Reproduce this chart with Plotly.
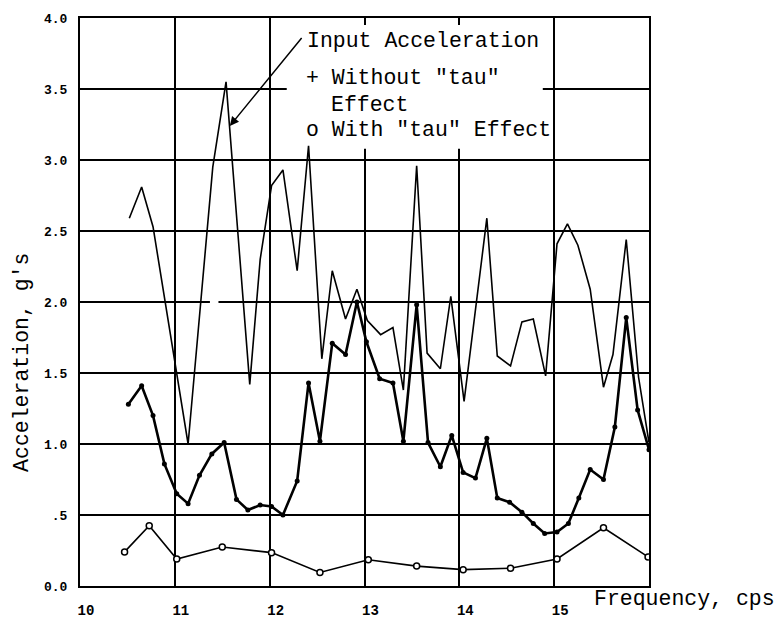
import plotly.graph_objects as go

# ---- data ----
input_f = [10.52, 10.65, 10.77, 11.14, 11.40, 11.54, 11.79, 11.90, 12.02, 12.14, 12.29, 12.41,
           12.55, 12.66, 12.80, 12.92, 13.03, 13.17, 13.30, 13.41, 13.55, 13.66, 13.80, 13.91,
           14.05, 14.29, 14.40, 14.54, 14.66, 14.78, 14.91, 15.01, 15.03, 15.14, 15.25, 15.38,
           15.52, 15.62, 15.76, 15.89, 16.00]
input_acc = [2.59, 2.81, 2.53, 1.00, 2.95, 3.55, 1.42, 2.30, 2.82, 2.93, 2.22, 3.10,
             1.60, 2.22, 1.88, 2.09, 1.87, 1.77, 1.82, 1.38, 2.96, 1.64, 1.53, 2.04,
             1.30, 2.59, 1.62, 1.55, 1.86, 1.88, 1.48, 2.29, 2.41, 2.55, 2.40, 2.09,
             1.40, 1.63, 2.44, 1.47, 1.01]

without_f = [10.51, 10.65, 10.77, 10.89, 11.02, 11.14, 11.26, 11.39, 11.52, 11.65, 11.77, 11.90,
             12.02, 12.14, 12.29, 12.41, 12.53, 12.66, 12.80, 12.92, 13.02, 13.16, 13.30, 13.41,
             13.55, 13.67, 13.80, 13.92, 14.04, 14.17, 14.29, 14.40, 14.53, 14.66, 14.78, 14.90,
             15.03, 15.15, 15.26, 15.38, 15.52, 15.64, 15.76, 15.88, 16.00]
without_tau = [1.28, 1.41, 1.20, 0.86, 0.65, 0.58, 0.78, 0.93, 1.01, 0.61, 0.535, 0.57,
               0.56, 0.50, 0.74, 1.43, 1.02, 1.71, 1.63, 2.00, 1.72, 1.46, 1.43, 1.02,
               1.98, 1.01, 0.84, 1.06, 0.80, 0.76, 1.04, 0.62, 0.59, 0.52, 0.44, 0.37,
               0.38, 0.44, 0.62, 0.82, 0.75, 1.12, 1.89, 1.24, 0.96]

with_f = [10.47, 10.73, 11.02, 11.50, 12.02, 12.53, 13.04, 13.55, 14.04, 14.54, 15.03, 15.52, 15.99]
with_tau = [0.24, 0.425, 0.19, 0.275, 0.235, 0.095, 0.185, 0.14, 0.115, 0.125, 0.19, 0.41, 0.205]

x_ticks = [10, 11, 12, 13, 14, 15]
x_ticktext = ["10", "11", "12", "13", "14", "15"]
y_ticks = [0, 0.5, 1, 1.5, 2, 2.5, 3, 3.5, 4]
y_ticktext = ["0.0", ".5", "1.0", "1.5", "2.0", "2.5", "3.0", "3.5", "4.0"]

FONT = "Liberation Mono"

fig = go.Figure()
fig.add_trace(go.Scatter(x=input_f, y=input_acc, mode="lines",
                         line=dict(color="black", width=1.6), name="Input Acceleration"))
fig.add_trace(go.Scatter(x=without_f, y=without_tau, mode="lines+markers",
                         line=dict(color="black", width=2.6),
                         marker=dict(color="black", size=5, symbol="circle"),
                         name='Without "tau" Effect'))
fig.add_trace(go.Scatter(x=with_f, y=with_tau, mode="lines+markers",
                         line=dict(color="black", width=1.6),
                         marker=dict(color="white", size=6, symbol="circle",
                                     line=dict(color="black", width=1.5)),
                         name='With "tau" Effect'))

# white masks where grid lines are broken in the original
fig.add_shape(type="rect", xref="x", yref="y", x0=12.18, x1=14.88, y0=3.08, y1=3.95,
              fillcolor="white", line=dict(width=0), layer="between")
fig.add_shape(type="rect", xref="x", yref="y", x0=11.37, x1=11.46, y0=1.97, y1=2.03,
              fillcolor="white", line=dict(width=0), layer="between")

# legend-like text
txt = dict(family=FONT, size=21.5, color="black")
fig.add_annotation(x=0.396, y=0.959, xref="paper", yref="paper", text="Input Acceleration",
                   showarrow=False, xanchor="left", yanchor="middle", font=txt)
fig.add_annotation(x=0.394, y=0.894, xref="paper", yref="paper", text='+ Without "tau"',
                   showarrow=False, xanchor="left", yanchor="middle", font=txt)
fig.add_annotation(x=0.438, y=0.847, xref="paper", yref="paper", text="Effect",
                   showarrow=False, xanchor="left", yanchor="middle", font=txt)
fig.add_annotation(x=0.394, y=0.803, xref="paper", yref="paper", text='o With "tau" Effect',
                   showarrow=False, xanchor="left", yanchor="middle", font=txt)

# arrow to input curve
fig.add_annotation(x=11.58, y=3.24, ax=12.35, ay=3.87, xref="x", yref="y",
                   axref="x", ayref="y", text="", showarrow=True,
                   arrowhead=2, arrowsize=1.2, arrowwidth=1.5, arrowcolor="black")

# axis titles
fig.add_annotation(x=-0.102, y=0.3945, xref="paper", yref="paper", text="Acceleration, g's",
                   textangle=-90, showarrow=False, xanchor="center", yanchor="middle", font=txt)
fig.add_annotation(x=1.062, y=-0.023, xref="paper", yref="paper", text="Frequency, cps",
                   showarrow=False, xanchor="center", yanchor="middle", font=txt)

axis_common = dict(showline=True, linecolor="black", linewidth=2, mirror=True,
                   showgrid=True, gridcolor="black", gridwidth=2, zeroline=False,
                   ticks="", fixedrange=True)

fig.update_xaxes(range=[10, 16], tickmode="array", tickvals=x_ticks, ticktext=x_ticktext,
                 tickfont=dict(family=FONT, size=14, color="black", weight="bold"),
                 ticklabelshift=6, ticklabelstandoff=10, **axis_common)
fig.update_yaxes(range=[0, 4], tickmode="array", tickvals=y_ticks, ticktext=y_ticktext,
                 tickfont=dict(family=FONT, size=13, color="black", weight="bold"),
                 ticklabelstandoff=8, **axis_common)

fig.update_layout(width=777, height=631, margin=dict(l=80, r=128, t=18, b=30),
                  plot_bgcolor="white", paper_bgcolor="white", showlegend=False)

# remove the default page margin so the figure sits at the window's top-left corner
fig.write_html("out.html", config={"displayModeBar": False},
               post_script="document.body.style.margin='0';document.body.style.overflow='hidden';")
